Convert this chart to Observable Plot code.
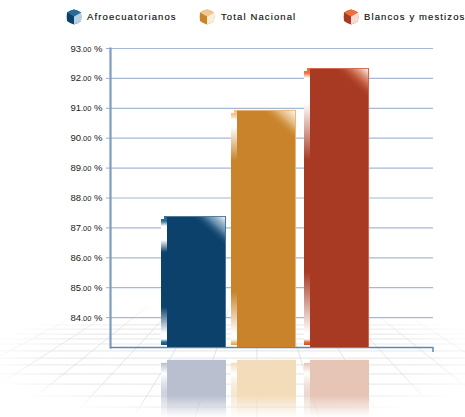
<!DOCTYPE html>
<html><head><meta charset="utf-8">
<script src="https://cdn.jsdelivr.net/npm/d3@7"></script>
<script src="https://cdn.jsdelivr.net/npm/@observablehq/plot@0.6"></script>
<style>
html,body{margin:0;padding:0;background:#fff;overflow:hidden}
#wrap{position:relative;width:465px;height:417px}
#wrap svg.plot{display:block;position:absolute;left:0;top:0}
.lg{position:absolute;top:11px;font:9.5px "Liberation Sans",Arial,sans-serif;letter-spacing:1.12px;color:#111;white-space:nowrap;line-height:11px;-webkit-text-stroke:.15px #111}
.cube{position:absolute;top:9px;width:16px;height:16px}
</style></head>
<body><div id="wrap"></div>
<script>
const categories = ["Afroecuatorianos", "Total Nacional", "Blancos y mestizos"];
const values = [87.38, 90.93, 92.33];
const yTicks = [84, 85, 86, 87, 88, 89, 90, 91, 92, 93];
const frontColors = ["#0b416b", "#c9842b", "#a83a23"];
const edgeColors = ["#4a7697", "#e8b87a", "#d4644c"];
const topFaceColors = ["#2a6a96", "#f2c690", "#ee6f3a"];
const glossTints = ["#9fc0d8", "#f3d9b0", "#e9946f"];
const barShift = [0, -1.5, 0];
const sideTopWhite = [24, 17, 35];
const sideTopFade = [36, 50, 92];
const sideBottomFade = [40, 55, 75];
const reflectColors = ["#b9bfcf", "#f3dcba", "#e6c5b7"];
const legendX = [[66, 87], [199, 221], [343, 364]];
const floorDepths = [83.74, 83.6, 83.43, 83.27, 83.1, 82.87, 82.63, 82.4, 82.1, 81.76, 81.36, 80.99];
const floorSlopes = [-2.17,-1.86,-1.55,-1.24,-.93,-.62,-.31,0,.31,.62,.93,1.24,1.55,1.86,2.17];

const data = categories.map((cat, i) => ({cat, value: values[i], i}));
const NS = "http://www.w3.org/2000/svg";
function el(name, attrs, parent) {
  const e = document.createElementNS(NS, name);
  for (const k in attrs) e.setAttribute(k, attrs[k]);
  if (parent) parent.appendChild(e);
  return e;
}
function linear(defs, id, dir, stops) {
  const g = el("linearGradient", Object.assign({id}, dir), defs);
  for (const [o, c, a] of stops) el("stop", {offset: o, "stop-color": c, "stop-opacity": a == null ? 1 : a}, g);
}
const defsMark = (index, {y}) => {
  const defs = el("defs", {});
  const V = {x1:0,y1:0,x2:0,y2:1};
  categories.forEach((_, i) => {
    const y0 = y(values[i]), y1 = y(83), h = y1 - y0, f = frontColors[i];
    linear(defs, "side"+i, {gradientUnits:"userSpaceOnUse", x1:0, x2:0, y1:y0, y2:y1}, [
      [5/h, topFaceColors[i]], [10/h, "#fff"], [sideTopWhite[i]/h, "#fff"], [sideTopFade[i]/h, f],
      [1-sideBottomFade[i]/h, f], [1-14/h, "#fff"], [1-8/h, "#fff"], [1-5/h, topFaceColors[i]], [1, f]
    ]);
    linear(defs, "refl"+i, V, [[0,reflectColors[i]],[.62,reflectColors[i]],[1,reflectColors[i],0]]);
    linear(defs, "rside"+i, V, [[0,reflectColors[i]],[.2,"#fff"],[.55,reflectColors[i],.7],[1,reflectColors[i],0]]);
    linear(defs, "gloss"+i, {x1:1,y1:0,x2:0,y2:1}, [[0,"#fff",.95],[.25,glossTints[i],.6],[.5,f,0]]);
  });
  const r = el("radialGradient", {id:"fade", gradientUnits:"userSpaceOnUse", cx:0, cy:0, r:1, gradientTransform:"translate(240 361) scale(262 62)"}, defs);
  [[0,"#fff"],[.7,"#ddd"],[1,"#000"]].forEach(([o,c]) => el("stop",{offset:o,"stop-color":c},r));
  const m = el("mask",{id:"floorMask",maskUnits:"userSpaceOnUse",x:0,y:0,width:465,height:417},defs);
  el("rect",{x:0,y:0,width:465,height:417,fill:"url(#fade)"},m);
  return defs;
};
const floorMark = (index, {y}, values, {width, height}) => {
  const g = el("g", {mask:"url(#floorMask)", "aria-label":"floor"});
  for (const d of floorDepths) el("line",{x1:0,x2:width,y1:y(d),y2:y(d),stroke:"#e7e8ea","stroke-width":1.2},g);
  const vx = 257, vy = 218, top = 305;
  for (const k of floorSlopes) el("line",{x1:vx+k*(top-vy),y1:top,x2:vx+k*(height-vy),y2:height,stroke:"#d2d5da","stroke-width":.7},g);
  return g;
};
const footMark = (index, {y}, values, {width, marginRight}) =>
  el("line",{x1:width-marginRight,x2:width-marginRight,y1:y(83),y2:y(83)+5,stroke:"#5f88ad","stroke-width":1.5});

const reflTop = 82.57, reflBottom = 80.65;
const marks = [
  defsMark,
  floorMark,
  Plot.ruleY(yTicks, {stroke:"#a9b8d2", strokeWidth:1.2}),
  Plot.axisY({ticks:yTicks, tickSize:4, tickPadding:4, stroke:"#9db0cc", tickFormat:d => d.toFixed(2)+" %", fontSize:9.5, fill:"#222", label:null}),
  Plot.frame({anchor:"left", stroke:"#7c9cc0", strokeWidth:2.2}),
  Plot.ruleY([83], {stroke:"#5f88ad", strokeWidth:1.6}),
  footMark
];
data.forEach(d => {
  const one = [d], i = d.i, dx = barShift[i];
  marks.push(
    Plot.barY(one, {x:"cat", dx, y1:()=>reflTop, y2:()=>reflBottom, fill:`url(#refl${i})`, insetLeft:6}),
    Plot.barY(one, {x:"cat", dx, y1:()=>reflTop-.1, y2:()=>reflBottom, fill:`url(#rside${i})`, insetRight:59}),
    Plot.barY(one, {x:"cat", dx, y1:()=>83, y2:"value", fill:`url(#side${i})`, insetRight:59, insetTop:3, insetBottom:2}),
    Plot.barY(one, {x:"cat", dx, y1:d=>d.value-.1, y2:"value", fill:topFaceColors[i], insetRight:59, insetLeft:3}),
    Plot.barY(one, {x:"cat", dx, y1:()=>83, y2:"value", fill:edgeColors[i], insetLeft:6}),
    Plot.barY(one, {x:"cat", dx, y1:()=>83, y2:"value", fill:frontColors[i], insetLeft:6, insetTop:1, insetRight:1}),
    Plot.barY(one, {x:"cat", dx, y1:d=>d.value-1.05, y2:d=>d.value-.03, fill:`url(#gloss${i})`, insetLeft:30, insetRight:1})
  );
});
const chart = Plot.plot({
  width:465, height:417, marginLeft:110, marginRight:32, marginTop:48, marginBottom:70,
  style:{background:"#fff", fontFamily:'"Liberation Sans",Arial,sans-serif'},
  x:{domain:categories, range:[154.5,375.5], padding:.091, round:false, axis:null},
  y:{domain:[83,93], axis:null},
  marks
});
chart.classList.add("plot");
chart.querySelectorAll('[aria-label="y-axis tick label"] text').forEach(t => {
  const s = t.textContent, m = s.match(/^(\d+)(\.\d+)( %)$/);
  if (!m) return;
  t.textContent = "";
  el("tspan",{},t).textContent = m[1];
  const a = el("tspan",{"font-size":"7.5"},t); a.textContent = m[2];
  el("tspan",{},t).textContent = m[3];
});
const wrap = document.getElementById("wrap");
wrap.appendChild(chart);
categories.forEach((c, i) => {
  const s = document.createElementNS(NS,"svg");
  s.setAttribute("class","cube"); s.setAttribute("viewBox","0 0 16 16");
  s.style.left = legendX[i][0]+"px";
  el("path",{d:"M8 .5Q12 1.5 15 3.5Q15.6 8 15 12Q12 14.5 8 15.5Q4 14.5 1 12Q.4 8 1 3.5Q4 1.5 8 .5Z",fill:frontColors[i]},s);
  el("path",{d:"M8 .5Q12 1.5 15 3.5L8 7.5L1 3.5Q4 1.5 8 .5Z",fill:topFaceColors[i]},s);
  el("path",{d:"M8 7.5L15 3.5Q15.6 8 15 12Q12 14.5 8 15.5Z",fill:["#b7cfe2","#fbecd8","#f9dccf"][i]},s);
  wrap.appendChild(s);
  const l = document.createElement("div");
  l.className="lg"; l.style.left=legendX[i][1]+"px"; l.textContent=c;
  wrap.appendChild(l);
});
</script></body></html>
